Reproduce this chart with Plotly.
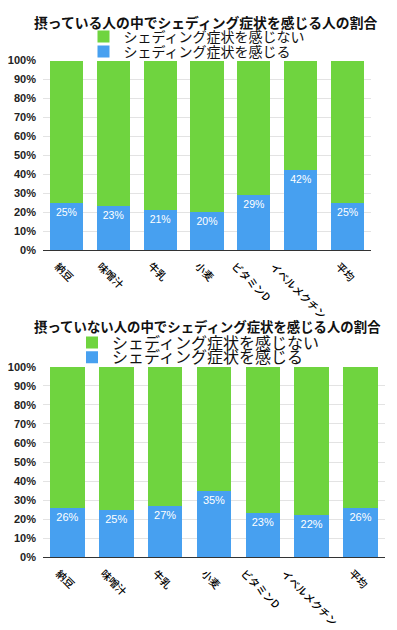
import plotly.graph_objects as go

W, H = 397, 630

categories = ["納豆", "味噌汁", "牛乳", "小麦", "ビタミンD", "イベルメクチン", "平均"]
top_feel = [25, 23, 21, 20, 29, 42, 25]
top_nofeel = [75, 77, 79, 80, 71, 58, 75]
bot_feel = [26, 25, 27, 35, 23, 22, 26]
bot_nofeel = [74, 75, 73, 65, 77, 78, 74]

name_nofeel = "シェディング症状を感じない"
name_feel = "シェディング症状を感じる"
title_top = "摂っている人の中でシェディング症状を感じる人の割合"
title_bot = "摂っていない人の中でシェディング症状を感じる人の割合"

GREEN = "#6fd43f"
BLUE = "#47a0f0"
JP = "Noto Sans CJK JP"

def px(x):
    return x / W

def py(y):
    return 1 - y / H

fig = go.Figure()

fig.add_trace(go.Bar(x=categories, y=top_feel, name=name_feel, marker_color=BLUE,
                     xaxis="x", yaxis="y", legend="legend2",
                     text=[f"{v}%" for v in top_feel], texttemplate="%{text}",
                     textposition="inside", insidetextanchor="end",
                     textangle=0, textfont=dict(color="white", size=10.5, family="Liberation Sans"),
                     hoverinfo="skip"))
fig.add_trace(go.Bar(x=categories, y=top_nofeel, name=name_nofeel, marker_color=GREEN,
                     xaxis="x", yaxis="y", legend="legend", hoverinfo="skip"))
fig.add_trace(go.Bar(x=categories, y=bot_feel, name=name_feel, marker_color=BLUE,
                     xaxis="x2", yaxis="y2", legend="legend4",
                     text=[f"{v}%" for v in bot_feel], texttemplate="%{text}",
                     textposition="inside", insidetextanchor="end",
                     textangle=0, textfont=dict(color="white", size=11, family="Liberation Sans"),
                     hoverinfo="skip"))
fig.add_trace(go.Bar(x=categories, y=bot_nofeel, name=name_nofeel, marker_color=GREEN,
                     xaxis="x2", yaxis="y2", legend="legend3", hoverinfo="skip"))

yaxis_common = dict(range=[0, 100], dtick=10, ticksuffix="%", showgrid=True,
                    gridcolor="#e3e3e3", gridwidth=1, zeroline=False, showline=False,
                    tickfont=dict(family="Liberation Sans", size=11, color="#222", weight="bold"),
                    ticks="", ticklabelstandoff=6, automargin=False, fixedrange=True)
xaxis_common = dict(showline=True, linecolor="#333", linewidth=1,
                    showgrid=False, zeroline=False, showticklabels=False,
                    ticks="", automargin=False, fixedrange=True)

legend_common = dict(xanchor="left", yanchor="middle", bgcolor="rgba(0,0,0,0)",
                     borderwidth=0, itemclick=False, itemdoubleclick=False)

annotations = [
    dict(text=title_top, x=px(205.5), y=py(22.5), xref="paper", yref="paper",
         xanchor="center", yanchor="middle", showarrow=False,
         font=dict(family=JP, size=13.8, color="#111", weight="bold")),
    dict(text=title_bot, x=px(207.5), y=py(326), xref="paper", yref="paper",
         xanchor="center", yanchor="middle", showarrow=False,
         font=dict(family=JP, size=13.4, color="#111", weight="bold")),
]
# rotated category labels, centred under each bar
for xr, yr in (("x", "y"), ("x2", "y2")):
    for c in categories:
        annotations.append(dict(
            text=c, x=c, y=0, xref=xr, yref=yr, xanchor="center", yanchor="top",
            yshift=-6, xshift=-2, textangle=45, showarrow=False,
            font=dict(family=JP, size=10.5, color="#000", weight=500)))

fig.update_layout(
    template="none",
    width=W, height=H,
    margin=dict(l=0, r=0, t=0, b=0),
    paper_bgcolor="white", plot_bgcolor="white",
    barmode="stack", bargap=0.29,
    xaxis=dict(domain=[px(43), px(371)], anchor="y", **xaxis_common),
    yaxis=dict(domain=[py(250), py(60.5)], anchor="x", **yaxis_common),
    xaxis2=dict(domain=[px(43), px(385)], anchor="y2", **xaxis_common),
    yaxis2=dict(domain=[py(557.3), py(366.7)], anchor="x2", **yaxis_common),
    legend=dict(x=px(83.5), y=py(37), font=dict(family=JP, size=14, color="#111"), **legend_common),
    legend2=dict(x=px(83.5), y=py(52), font=dict(family=JP, size=14, color="#111"), **legend_common),
    legend3=dict(x=px(72), y=py(342.7), font=dict(family=JP, size=16, color="#111"), **legend_common),
    legend4=dict(x=px(72), y=py(357.3), font=dict(family=JP, size=16, color="#111"), **legend_common),
    showlegend=True,
    annotations=annotations,
)

fig.write_html(
    "out.html",
    config={"displayModeBar": False},
    post_script="document.body.style.margin='0';document.body.style.overflow='hidden';",
)
